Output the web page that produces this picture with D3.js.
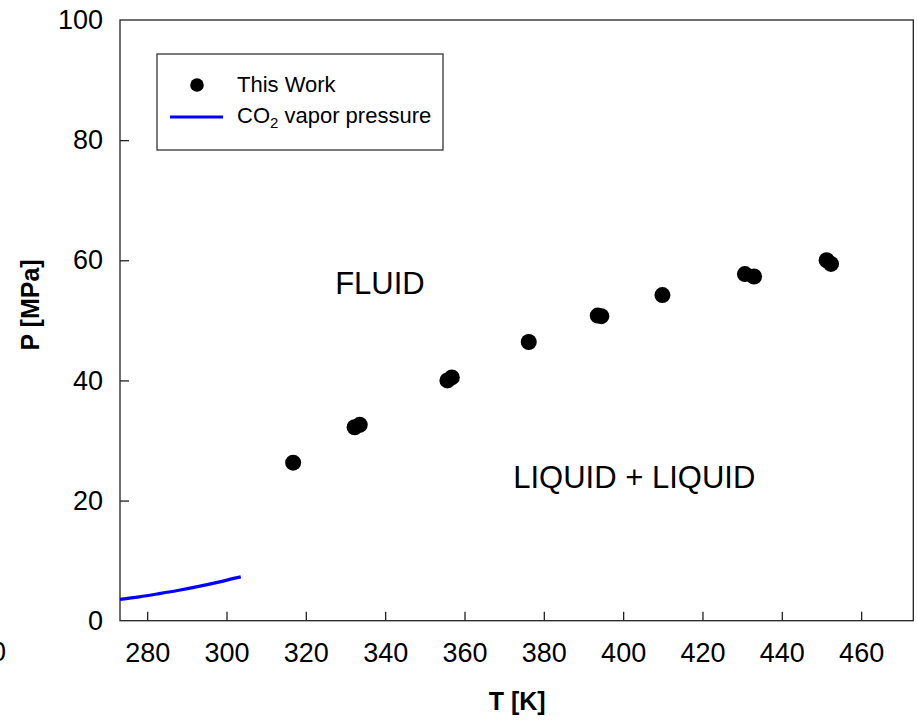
<!DOCTYPE html>
<html>
<head>
<meta charset="utf-8">
<script src="https://cdn.jsdelivr.net/npm/d3@7"></script>
<style>
  body { margin: 0; background: #fff; }
  text { font-family: "Liberation Sans", Arial, sans-serif; fill: #000; }
</style>
</head>
<body>
<svg id="chart" width="917" height="722"></svg>
<script>
// measured points (T in K, P in MPa)
const workT = [316.8, 332.3, 333.6, 355.7, 356.8, 376.2, 393.6, 394.5, 409.9, 430.7, 433.0, 451.3, 452.4]
const workP = [26.3, 32.2, 32.6, 40.0, 40.5, 46.4, 50.8, 50.7, 54.2, 57.7, 57.3, 60.0, 59.4]

// CO2 vapor pressure curve
const vapT = [273.15, 278, 283, 288, 293, 298, 303, 303.6]
const vapP = [3.55, 3.97, 4.50, 5.07, 5.72, 6.43, 7.21, 7.29]

const xTicks = [280, 300, 320, 340, 360, 380, 400, 420, 440, 460]
const yTicks = [0, 20, 40, 60, 80, 100]

const svg = d3.select('#chart')
const plotL = 120, plotR = 913.3, plotT = 20, plotB = 620.7

const x = d3.scaleLinear().domain([273.15, 473.15]).range([plotL, plotR])
const y = d3.scaleLinear().domain([0, 100]).range([plotB, plotT])

// frame
svg.append('rect')
    .attr('x', plotL).attr('y', plotT)
    .attr('width', plotR - plotL).attr('height', plotB - plotT)
    .attr('fill', 'none').attr('stroke', '#222').attr('stroke-width', 1.3)

// axes, ticks pointing in
const xAxis = svg.append('g').attr('transform', `translate(0,${plotB})`)
    .call(d3.axisBottom(x).tickValues(xTicks).tickSizeInner(-9).tickSizeOuter(0).tickPadding(22))
const yAxis = svg.append('g').attr('transform', `translate(${plotL},0)`)
    .call(d3.axisLeft(y).tickValues(yTicks).tickSizeInner(-9).tickSizeOuter(0).tickPadding(17))

;[xAxis, yAxis].forEach(a => {
    a.select('.domain').remove()
    a.selectAll('line').attr('stroke', '#222').attr('stroke-width', 1.3)
    a.selectAll('text').style('font-family', '"Liberation Sans", Arial, sans-serif')
        .style('font-size', '27px').attr('fill', '#000')
})
yAxis.selectAll('.tick').filter(d => d === 0 || d === 100).select('line').remove()

// stray clipped label at the far left
svg.append('text').attr('x', 6).attr('y', 661)
    .attr('text-anchor', 'end').style('font-size', '27px').text('0')

// axis titles
svg.append('text').attr('x', (plotL + plotR) / 2 + 0.5).attr('y', 710)
    .attr('text-anchor', 'middle').style('font-size', '25px').style('font-weight', 'bold')
    .text('T [K]')
svg.append('text')
    .attr('transform', 'translate(39,305) rotate(-90)')
    .attr('text-anchor', 'middle').style('font-size', '25px').style('font-weight', 'bold')
    .text('P [MPa]')

// vapor pressure line
const vapData = vapT.map((t, i) => ({t: t, p: vapP[i]}))
svg.append('path').datum(vapData)
    .attr('fill', 'none').attr('stroke', '#0000ff').attr('stroke-width', 3.2)
    .attr('d', d3.line().x(d => x(d.t)).y(d => y(d.p)).curve(d3.curveMonotoneX))

// data points
const workData = workT.map((t, i) => ({t: t, p: workP[i]}))
svg.append('g').selectAll('circle').data(workData).enter().append('circle')
    .attr('cx', d => x(d.t)).attr('cy', d => y(d.p)).attr('r', 8)
    .attr('fill', '#000')

// region labels
svg.append('text').attr('x', x(327.4)).attr('y', y(54.4))
    .style('font-size', '31px').text('FLUID')
svg.append('text').attr('x', x(372.3)).attr('y', y(22.1))
    .style('font-size', '31px').text('LIQUID + LIQUID')

// legend
const lg = svg.append('g')
lg.append('rect').attr('x', 157).attr('y', 54).attr('width', 286).attr('height', 96)
    .attr('fill', '#fff').attr('stroke', '#333').attr('stroke-width', 1.3)
lg.append('circle').attr('cx', 197).attr('cy', 85).attr('r', 6.8).attr('fill', '#000')
lg.append('text').attr('x', 237).attr('y', 92).style('font-size', '22px').text('This Work')
lg.append('line').attr('x1', 170).attr('x2', 223).attr('y1', 117).attr('y2', 117)
    .attr('stroke', '#0000ff').attr('stroke-width', 3.2)
const co2 = lg.append('text').attr('x', 237).attr('y', 123).style('font-size', '22px')
co2.append('tspan').text('CO')
co2.append('tspan').attr('dy', 5).style('font-size', '15px').text('2')
co2.append('tspan').attr('dy', -5).text(' vapor pressure')
</script>
</body>
</html>
